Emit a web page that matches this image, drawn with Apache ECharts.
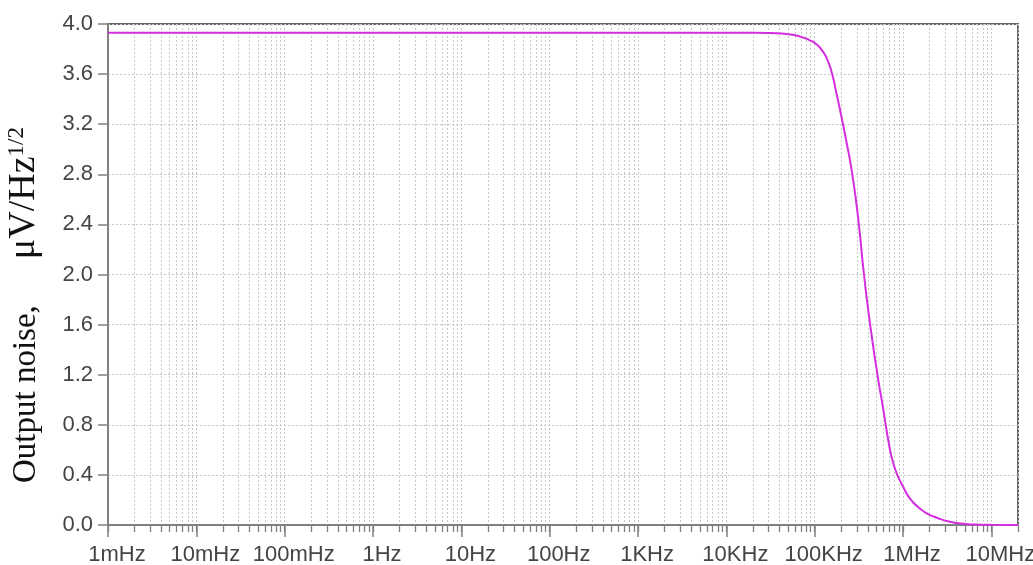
<!DOCTYPE html>
<html>
<head>
<meta charset="utf-8">
<script src="https://cdn.jsdelivr.net/npm/echarts@6/dist/echarts.min.js"></script>
<style>
  html, body { margin: 0; padding: 0; background: #fff; }
  #chart { width: 1033px; height: 565px; }
</style>
</head>
<body>
<div id="chart"></div>
<script>
// Frequency (Hz) of each sampled point on the noise curve
const freqHz = [1e-3, 1e-2, 1e-1, 1, 10, 100, 1e3, 1e4, 3e4, 4.8e4, 6.8e4, 8.8e4, 1.035e5, 1.21e5,
  1.38e5, 1.56e5, 1.77e5, 2.02e5, 2.3e5, 2.62e5, 3.1e5, 3.61e5, 4.24e5, 5.25e5, 5.74e5, 6.25e5,
  6.81e5, 7.56e5, 8.61e5, 9.42e5, 1.007e6, 1.2e6, 1.49e6, 1.85e6, 2.41e6, 3.4e6, 4.82e6,
  6.25e6, 1e7, 2e7];
// Output noise density, µV/√Hz
const noise = [3.93, 3.93, 3.93, 3.93, 3.93, 3.93, 3.93, 3.93, 3.928, 3.92, 3.90, 3.87, 3.84, 3.79,
  3.72, 3.61, 3.44, 3.25, 3.05, 2.83, 2.45, 2.00, 1.60, 1.155, 0.995, 0.835,
  0.675, 0.52, 0.40, 0.342, 0.302, 0.21, 0.142, 0.094, 0.058, 0.026, 0.01,
  0.004, 0.001, 0.0];

// Decade ticks and their labels
const decadeValues = [1e-3, 1e-2, 1e-1, 1, 10, 100, 1e3, 1e4, 1e5, 1e6, 1e7];
const decadeLabels = ['1mHz', '10mHz', '100mHz', '1Hz', '10Hz', '100Hz', '1KHz', '10KHz', '100KHz', '1MHz', '10MHz'];

const xMin = 1e-3, xMax = 2e7;
const yMin = 0, yMax = 4, yStep = 0.4;

// 1..9 positions inside each decade, for the minor ticks and the vertical grid
const minorValues = [];
for (let e = -3; e <= 7; e++) {
  for (let m = 1; m <= 9; m++) {
    const v = m * Math.pow(10, e);
    if (v <= xMax * 1.0001) minorValues.push(v);
  }
}

const gridLine = { color: '#c8c8c8', type: [2, 2], width: 1 };
const axisGray = '#808080';
const labelFont = 'Liberation Sans';

const chart = echarts.init(document.getElementById('chart'));
chart.setOption({
  animation: false,
  backgroundColor: '#fff',
  grid: {
    left: 108, right: 15, top: 24, bottom: 40,
    outerBoundsMode: 'none', containLabel: false,
    show: true, borderColor: '#666', borderWidth: 2, backgroundColor: 'transparent'
  },
  xAxis: [{
    type: 'log', logBase: 10, min: xMin, max: xMax,
    axisLine: { show: true, lineStyle: { color: axisGray, width: 2 } },
    axisTick: { show: true, customValues: decadeValues, length: 12,
      lineStyle: { color: axisGray, width: 1.5 } },
    axisLabel: {
      customValues: decadeValues, margin: 19, padding: [0, 0, 0, 18],
      fontFamily: labelFont, fontSize: 22, color: '#444',
      formatter: function (v) {
        const i = Math.round(Math.log10(v)) + 3;
        return decadeLabels[i] || '';
      }
    },
    splitLine: { show: false }
  }, {
    type: 'log', logBase: 10, min: xMin, max: xMax, position: 'bottom',
    axisLine: { show: false },
    axisTick: { show: true, customValues: minorValues, length: 7,
      lineStyle: { color: axisGray, width: 1.3 } },
    axisLabel: { show: false },
    splitLine: { show: true, lineStyle: gridLine }
  }],
  yAxis: {
    type: 'value', min: yMin, max: yMax, interval: yStep,
    axisLine: { show: true, lineStyle: { color: axisGray, width: 2 } },
    axisTick: { show: true, length: 10, lineStyle: { color: axisGray, width: 1.5 } },
    axisLabel: {
      margin: 15, fontFamily: labelFont, fontSize: 22, color: '#444',
      formatter: function (v) { return v.toFixed(1); }
    },
    splitLine: { show: true, lineStyle: gridLine }
  },
  graphic: [{
    // y-axis title, reading bottom to top
    type: 'text',
    x: 24, y: 483,
    rotation: Math.PI / 2,
    z: 10,
    style: {
      text: '{a|Output noise,}{g|}{b|μV/Hz}{s|1/2}',
      align: 'left',
      verticalAlign: 'middle',
      rich: {
        a: { fontFamily: 'Liberation Serif', fontSize: 33, fill: '#111', verticalAlign: 'bottom' },
        g: { width: 46, fontSize: 33 },
        b: { fontFamily: 'Liberation Serif', fontSize: 38, fill: '#111', verticalAlign: 'bottom' },
        s: { fontFamily: 'Liberation Serif', fontSize: 23, fill: '#111', verticalAlign: 'top' }
      }
    }
  }],
  series: [{
    type: 'line',
    xAxisIndex: 0,
    data: freqHz.map(function (f, i) { return [f, noise[i]]; }),
    smooth: 0.6,
    showSymbol: false,
    lineStyle: { color: '#d42ee0', width: 2 },
    z: 5
  }]
});
</script>
</body>
</html>
